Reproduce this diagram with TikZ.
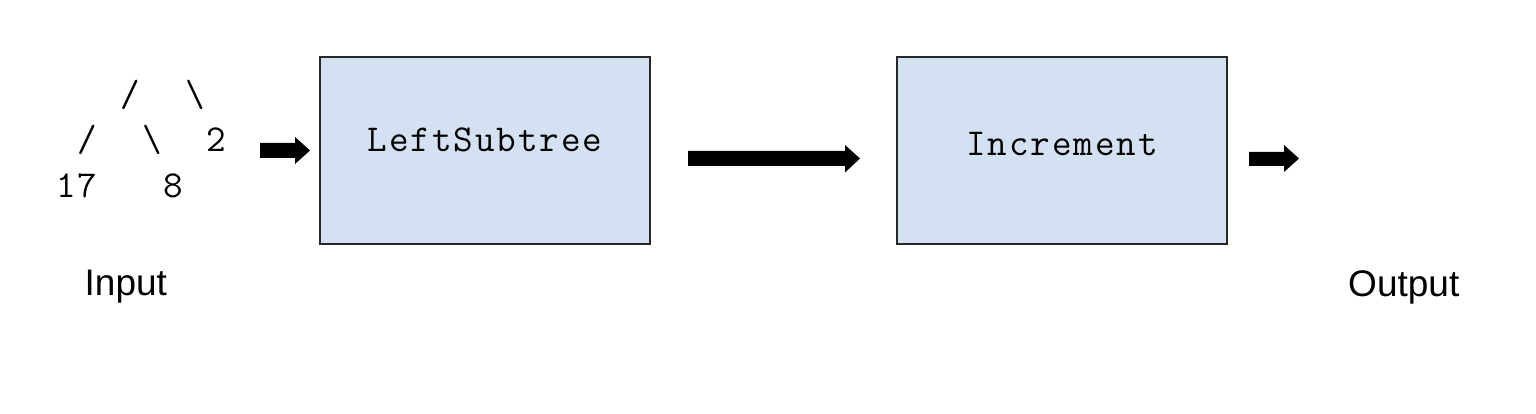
\documentclass[tikz,border=0pt]{standalone}
\usepackage{fontspec}
\setmainfont{Liberation Sans}
\definecolor{boxfill}{RGB}{212,225,242}
\definecolor{boxline}{RGB}{40,40,40}
\newcommand\tsp{\phantom{0}}
\makeatletter
\newcommand\monoword[1]{\mono@loop#1\relax}
\def\mono@loop#1{\ifx#1\relax\else\makebox[21.5pt]{#1}\expandafter\mono@loop\fi}
\makeatother
\tikzset{
  stagebox/.style={draw=boxline, line width=1.3pt, fill=boxfill},
  monotext/.style={inner sep=0pt, anchor=base, font=\fontsize{38}{45}\selectfont\ttfamily},
  treeline/.style={inner sep=0pt, anchor=base west, font=\fontsize{38}{45}\selectfont\ttfamily},
  labeltext/.style={inner sep=0pt, anchor=base west, font=\fontsize{37}{44}\selectfont},
  blockarrow/.style={fill=black, draw=none}
}
\begin{document}
\begin{tikzpicture}[x=1pt,y=-1pt]
\useasboundingbox (0,0) rectangle (1536,414);
% input tree
\node[treeline] (t1) at (55,107) {\monoword{\tsp\tsp\tsp/\tsp\tsp\textbackslash}};
\node[treeline] (t2) at (55,152) {\monoword{\tsp/\tsp\tsp\textbackslash\tsp\tsp2}};
\node[treeline] (t3) at (55,197) {\monoword{17\tsp\tsp\tsp8}};
\node[labeltext] (in) at (84.5,295) {Input};
% boxes
\draw[stagebox] (320,57) rectangle (650,244);
\node (b1) at (485,150.5) {};
\node[monotext] (l1) at (485,152) {\monoword{LeftSubtree}};
\draw[stagebox] (897,57) rectangle (1227,244);
\node (b2) at (1062,150.5) {};
\node[monotext] (l2) at (1062,156) {\monoword{Increment}};
\node[labeltext] (out) at (1348,296) {Output};
% arrows
\fill[blockarrow] (260,143) -- (295,143) -- (295,137) -- (310,150.5) -- (295,164) -- (295,158) -- (260,158) -- cycle;
\fill[blockarrow] (688,151) -- (845,151) -- (845,145) -- (860,158.5) -- (845,172.5) -- (845,166) -- (688,166) -- cycle;
\fill[blockarrow] (1249,152) -- (1284,152) -- (1284,145) -- (1299,158.5) -- (1284,172) -- (1284,166) -- (1249,166) -- cycle;
\end{tikzpicture}
\end{document}
